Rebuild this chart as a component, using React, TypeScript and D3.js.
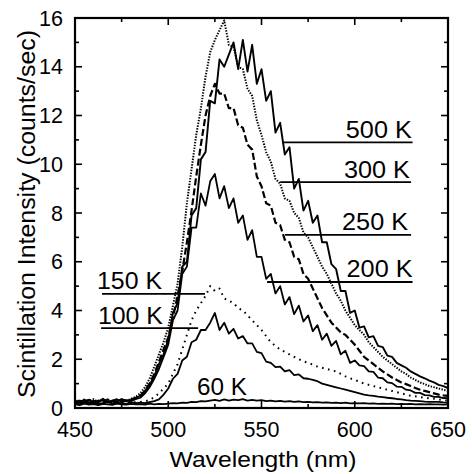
import React from 'react';
import * as d3 from 'd3';

// Wavelength grid (nm), 2.5 nm sampling
const WAVELENGTH: number[] = d3.range(0, 81).map((i) => 450 + 2.5 * i);

// Intensity series (counts/sec)
const T500K = [
  0.28, 0.22, 0.35, 0.2, 0.3, 0.25, 0.38, 0.22, 0.3, 0.27,
  0.36, 0.3, 0.33, 0.42, 0.5, 0.7, 0.95, 1.3, 1.8, 2.2,
  2.8, 3.9, 4.3, 5.8, 6.0, 7.9, 8.2, 10.2, 10.5, 12.6,
  12.5, 14.3, 14.0, 14.5, 15.0, 13.9, 15.1, 13.8, 14.9, 13.3,
  13.9, 12.6, 13.0, 11.3, 11.7, 10.4, 10.7, 9.0, 9.4, 8.1,
  8.5, 7.6, 7.9, 6.8, 6.8, 5.9, 5.7, 4.8, 4.8, 3.9,
  4.0, 3.3, 3.35, 2.9, 2.95, 2.55, 2.5, 2.15, 2.1, 1.85,
  1.75, 1.65, 1.5, 1.4, 1.3, 1.22, 1.12, 1.05, 0.95, 0.9,
  0.82,
];
const T300K = [
  0.25, 0.32, 0.2, 0.3, 0.36, 0.24, 0.3, 0.34, 0.22, 0.3,
  0.35, 0.28, 0.38, 0.45, 0.6, 0.85, 1.2, 1.7, 2.2, 2.7,
  3.3, 4.2, 5.1, 6.6, 8.4, 9.8, 11.2, 12.3, 13.6, 14.6,
  15.1, 15.5, 15.9, 14.9, 14.8, 14.0, 13.9, 13.1, 12.8, 11.8,
  11.2, 10.5, 10.1, 9.4, 9.2, 8.6, 8.5, 8.0, 7.8, 7.2,
  7.0, 6.6, 6.2, 5.8, 5.5, 5.1, 4.7, 4.4, 4.0, 3.7,
  3.4, 3.2, 3.0, 2.7, 2.5, 2.3, 2.1, 1.95, 1.8, 1.65,
  1.5, 1.4, 1.25, 1.15, 1.05, 0.98, 0.9, 0.85, 0.8, 0.75,
  0.7,
];
const T250K = [
  0.3, 0.22, 0.28, 0.33, 0.2, 0.3, 0.26, 0.35, 0.28, 0.22,
  0.32, 0.3, 0.36, 0.4, 0.5, 0.7, 1.0, 1.4, 1.9, 2.4,
  2.9, 3.7, 4.6, 5.6, 6.8, 8.1, 9.5, 10.8, 12.0, 12.8,
  13.3, 12.9, 12.9, 12.3, 12.3, 11.6, 11.5, 10.8, 10.6, 9.5,
  9.1, 8.4, 8.3, 7.6, 7.5, 6.9, 6.8, 6.2, 6.1, 5.5,
  5.3, 4.9, 4.5, 4.1, 3.8, 3.5, 3.3, 3.1, 3.0, 2.8,
  2.6, 2.35, 2.1, 1.95, 1.8, 1.65, 1.5, 1.38, 1.25, 1.15,
  1.05, 0.98, 0.9, 0.82, 0.75, 0.7, 0.65, 0.6, 0.55, 0.52,
  0.5,
];
const T200K = [
  0.22, 0.3, 0.25, 0.34, 0.2, 0.28, 0.32, 0.24, 0.3, 0.36,
  0.25, 0.3, 0.28, 0.36, 0.42, 0.6, 0.85, 1.2, 1.6, 2.1,
  2.6, 3.6, 4.0, 5.5, 5.8, 7.4, 7.4, 8.8, 8.3, 9.3,
  9.6, 8.6, 9.1, 8.2, 8.6, 7.6, 7.9, 6.9, 7.3, 6.2,
  6.2, 5.3, 5.5, 4.7, 5.0, 4.25, 4.55, 3.85, 4.2, 3.55,
  3.8, 3.15, 3.4, 2.8, 3.05, 2.55, 2.75, 2.2, 2.35, 1.85,
  1.95, 1.75, 1.72, 1.5, 1.48, 1.25, 1.22, 1.05, 1.02, 0.88,
  0.87, 0.75, 0.72, 0.62, 0.62, 0.53, 0.52, 0.46, 0.46, 0.41,
  0.4,
];
const T150K = [
  0.2, 0.25, 0.18, 0.22, 0.28, 0.2, 0.24, 0.2, 0.26, 0.22,
  0.2, 0.25, 0.22, 0.24, 0.25, 0.28, 0.32, 0.45, 0.6, 0.8,
  1.0, 1.4, 1.8, 2.4, 3.0, 3.6, 4.0, 4.3, 4.6, 5.0,
  4.8, 4.9, 4.5, 4.4, 4.3, 4.1, 4.0, 3.8, 3.6, 3.4,
  3.2, 2.95, 2.7, 2.55, 2.4, 2.3, 2.2, 2.1, 2.0, 1.92,
  1.85, 1.78, 1.7, 1.65, 1.6, 1.55, 1.5, 1.4, 1.3, 1.22,
  1.15, 1.08, 1.0, 0.95, 0.9, 0.85, 0.8, 0.75, 0.7, 0.65,
  0.6, 0.55, 0.5, 0.48, 0.45, 0.42, 0.4, 0.38, 0.35, 0.32,
  0.3,
];
const T100K = [
  0.2, 0.15, 0.24, 0.18, 0.22, 0.16, 0.2, 0.25, 0.18, 0.22,
  0.2, 0.17, 0.23, 0.2, 0.22, 0.2, 0.24, 0.28, 0.35, 0.55,
  0.8, 1.2, 1.4, 1.95, 2.1, 2.7, 2.8, 3.2, 3.2, 3.5,
  3.9, 3.2, 3.5, 3.05, 3.25, 2.85, 2.95, 2.65, 2.65, 2.3,
  2.25, 1.9, 1.85, 1.68, 1.7, 1.5, 1.55, 1.35, 1.38, 1.22,
  1.2, 1.15, 1.1, 1.0, 0.95, 0.9, 0.85, 0.8, 0.75, 0.7,
  0.65, 0.6, 0.55, 0.52, 0.5, 0.47, 0.45, 0.42, 0.4, 0.37,
  0.35, 0.32, 0.3, 0.29, 0.28, 0.26, 0.25, 0.25, 0.25, 0.23,
  0.22,
];
const T60K = [
  0.15, 0.12, 0.18, 0.14, 0.16, 0.12, 0.17, 0.15, 0.13, 0.18,
  0.15, 0.14, 0.17, 0.15, 0.16, 0.14, 0.18, 0.15, 0.17, 0.16,
  0.18, 0.2, 0.19, 0.22, 0.21, 0.25, 0.24, 0.28, 0.27, 0.3,
  0.33, 0.29, 0.35, 0.3, 0.34, 0.32, 0.36, 0.3, 0.33, 0.3,
  0.32, 0.28, 0.3, 0.27, 0.29, 0.26, 0.28, 0.25, 0.27, 0.24,
  0.25, 0.23, 0.24, 0.22, 0.23, 0.21, 0.22, 0.2, 0.22, 0.19,
  0.2, 0.19, 0.2, 0.18, 0.19, 0.17, 0.18, 0.17, 0.18, 0.16,
  0.17, 0.16, 0.17, 0.15, 0.16, 0.15, 0.16, 0.15, 0.15, 0.14,
  0.15,
];

const X_TICKS = [450, 500, 550, 600, 650];
const X_MINOR = [475, 525, 575, 625];
const Y_TICKS = [0, 2, 4, 6, 8, 10, 12, 14, 16];
const Y_MINOR = [1, 3, 5, 7, 9, 11, 13, 15];

const X_TITLE = 'Wavelength (nm)';
const Y_TITLE = 'Scintillation Intensity (counts/sec)';

const FONT = "'Liberation Sans', Arial, Helvetica, sans-serif";

const W = 472;
const H = 474;
const X0 = 75, X1 = 448, Y0 = 408, Y1 = 18;

export default function App() {
  const x = d3.scaleLinear().domain([450, 650]).range([X0, X1]);
  const y = d3.scaleLinear().domain([0, 16]).range([Y0, Y1]);
  const line = d3
    .line<number>()
    .x((_, i) => x(WAVELENGTH[i]))
    .y((d) => y(d));

  const series = [
    { key: '60', values: T60K, dash: undefined as string | undefined, width: 1.8 },
    { key: '100', values: T100K, dash: undefined, width: 1.8 },
    { key: '150', values: T150K, dash: '1.6 4.5', width: 2 },
    { key: '200', values: T200K, dash: undefined, width: 1.8 },
    { key: '250', values: T250K, dash: '7 3', width: 2.2 },
    { key: '300', values: T300K, dash: '1.4 1.4', width: 2 },
    { key: '500', values: T500K, dash: undefined, width: 1.9 },
  ];

  // label layout in data coordinates
  const labels = [
    { text: '500 K', v: 10.9, l0: 561, l1: 631, tx: 630.6, anchor: 'end', tl: 66 },
    { text: '300 K', v: 9.27, l0: 560, l1: 630.2, tx: 629.6, anchor: 'end', tl: 66 },
    { text: '250 K', v: 7.1, l0: 562.6, l1: 630.2, tx: 628.6, anchor: 'end', tl: 66 },
    { text: '200 K', v: 5.17, l0: 553, l1: 631, tx: 631, anchor: 'end', tl: 66 },
    { text: '150 K', v: 4.68, l0: 464.5, l1: 519.7, tx: 461.8, anchor: 'start', tl: 65 },
    { text: '100 K', v: 3.28, l0: 464, l1: 516, tx: 462.3, anchor: 'start', tl: 65 },
  ];

  return (
    <svg
      width={W}
      height={H}
      style={{ position: 'absolute', left: 0, top: 0, background: '#fff' }}
      fontFamily={FONT}
    >
      <defs>
        <clipPath id="plotClip">
          <rect x={X0} y={Y1} width={X1 - X0} height={Y0 - Y1} />
        </clipPath>
      </defs>

      <g clipPath="url(#plotClip)">
        {series.map((s) => (
          <path
            key={s.key}
            d={line(s.values) || ''}
            fill="none"
            stroke="#000"
            strokeWidth={s.width}
            strokeDasharray={s.dash}
            strokeLinejoin="round"
          />
        ))}
      </g>

      {/* frame */}
      <rect x={X0} y={Y1} width={X1 - X0} height={Y0 - Y1} fill="none" stroke="#000" strokeWidth={2.2} />

      {/* x ticks (inward, top and bottom) */}
      {X_TICKS.map((t) => (
        <g key={'xt' + t}>
          <line x1={x(t)} x2={x(t)} y1={Y0} y2={Y0 - 7} stroke="#000" strokeWidth={1.6} />
          <line x1={x(t)} x2={x(t)} y1={Y1} y2={Y1 + 7} stroke="#000" strokeWidth={1.6} />
          <text x={x(t)} y={437} textAnchor="middle" fontSize={21.5} fill="#000">
            {t}
          </text>
        </g>
      ))}
      {X_MINOR.map((t) => (
        <g key={'xm' + t}>
          <line x1={x(t)} x2={x(t)} y1={Y0} y2={Y0 - 4} stroke="#000" strokeWidth={1.6} />
          <line x1={x(t)} x2={x(t)} y1={Y1} y2={Y1 + 4} stroke="#000" strokeWidth={1.6} />
        </g>
      ))}

      {/* y ticks (inward, left and right) */}
      {Y_TICKS.map((t) => (
        <g key={'yt' + t}>
          <line x1={X0} x2={X0 + 7} y1={y(t)} y2={y(t)} stroke="#000" strokeWidth={1.6} />
          <line x1={X1} x2={X1 - 7} y1={y(t)} y2={y(t)} stroke="#000" strokeWidth={1.6} />
          <text x={63} y={y(t) + 7.5} textAnchor="end" fontSize={21.5} fill="#000">
            {t}
          </text>
        </g>
      ))}
      {Y_MINOR.map((t) => (
        <g key={'ym' + t}>
          <line x1={X0} x2={X0 + 4} y1={y(t)} y2={y(t)} stroke="#000" strokeWidth={1.6} />
          <line x1={X1} x2={X1 - 4} y1={y(t)} y2={y(t)} stroke="#000" strokeWidth={1.6} />
        </g>
      ))}

      {/* series labels */}
      {labels.map((lb) => (
        <g key={lb.text}>
          <line x1={x(lb.l0)} x2={x(lb.l1)} y1={y(lb.v)} y2={y(lb.v)} stroke="#000" strokeWidth={1.8} />
          <text
            x={x(lb.tx)}
            y={y(lb.v) - 4.5}
            textAnchor={lb.anchor as any}
            fontSize={23}
            textLength={lb.tl}
            lengthAdjust="spacingAndGlyphs"
            fill="#000"
          >
            {lb.text}
          </text>
        </g>
      ))}
      <text x={x(515.4)} y={y(0.53)} fontSize={23} textLength={50} lengthAdjust="spacingAndGlyphs" fill="#000">
        60 K
      </text>

      {/* axis titles */}
      <text
        x={263}
        y={466.5}
        textAnchor="middle"
        fontSize={21.5}
        textLength={187}
        lengthAdjust="spacingAndGlyphs"
        fill="#000"
      >
        {X_TITLE}
      </text>
      <text
        transform="translate(35,214) rotate(-90)"
        textAnchor="middle"
        fontSize={23.5}
        textLength={368}
        lengthAdjust="spacingAndGlyphs"
        fill="#000"
      >
        {Y_TITLE}
      </text>
    </svg>
  );
}
